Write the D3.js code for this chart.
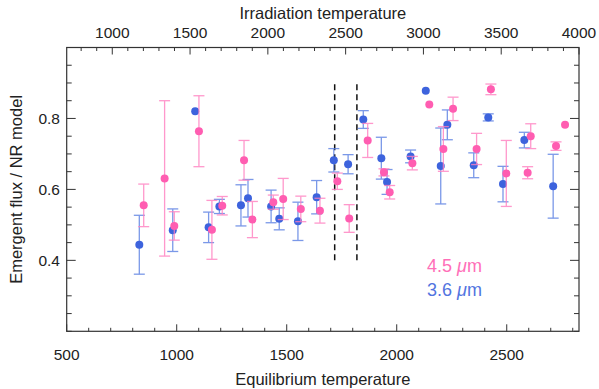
<!DOCTYPE html>
<html>
<head>
<meta charset="utf-8">
<script src="https://cdn.jsdelivr.net/npm/d3@7"></script>
<style>
  body { margin: 0; background: #fff; }
  text { font-family: "Liberation Sans", Arial, sans-serif; fill: #222; }
</style>
</head>
<body>
<svg id="chart" width="599" height="389"></svg>
<script>
// 3.6 micron points: equilibrium temperature, flux ratio, error (0 = no bar)
const blueTeq  = [830, 982, 1084, 1145, 1194, 1292, 1324, 1429, 1466, 1551, 1636, 1714, 1779,
                  1848, 1930, 1956, 2063, 2132, 2200, 2230, 2350, 2416, 2483, 2580, 2711];
const blueFlux = [0.444, 0.485, 0.820, 0.493, 0.552, 0.555, 0.575, 0.552, 0.517, 0.510, 0.578, 0.682, 0.671,
                  0.797, 0.688, 0.621, 0.693, 0.878, 0.666, 0.782, 0.668, 0.803, 0.615, 0.739, 0.609];
const blueErr  = [0.083, 0.060, 0, 0.043, 0.020, 0.058, 0.053, 0.046, 0.031, 0.054, 0.047, 0.033, 0.027,
                  0.025, 0.059, 0.035, 0.018, 0, 0.107, 0.042, 0.035, 0.010, 0.050, 0.022, 0.090];

// 4.5 micron points
const pinkTeq  = [850, 945, 989, 1101, 1160, 1207, 1306, 1344, 1439, 1484, 1564, 1651, 1730, 1784,
                  1868, 1942, 1968, 2071, 2148, 2212, 2256, 2363, 2428, 2498, 2595, 2609, 2724, 2765];
const pinkFlux = [0.555, 0.631, 0.497, 0.764, 0.486, 0.554, 0.682, 0.515, 0.564, 0.573, 0.545, 0.540, 0.623, 0.518,
                  0.738, 0.648, 0.592, 0.674, 0.839, 0.714, 0.827, 0.714, 0.882, 0.645, 0.647, 0.750, 0.722, 0.782];
const pinkErr  = [0.060, 0.219, 0.040, 0.100, 0.083, 0.026, 0.056, 0.051, 0.020, 0.058, 0.036, 0.035, 0.023, 0.039,
                  0.048, 0.010, 0.019, 0.019, 0, 0.063, 0.033, 0.044, 0.015, 0.093, 0.017, 0.035, 0.012, 0];

const dashedTeq = [1718, 1819];
const dashedSpan = [0.4, 0.9];

const bottomTicks = [500, 1000, 1500, 2000, 2500];
const topTicks = [1000, 1500, 2000, 2500, 3000, 3500, 4000];
const yTicks = [0.4, 0.6, 0.8];

const W = 599, H = 389;
const margin = {left: 66.7, right: 20, top: 47.5, bottom: 57.7};

let svg = d3.select("#chart");

let x = d3.scaleLinear().domain([500, 4000 / Math.SQRT2]).range([margin.left, W - margin.right]);
// irradiation temperature = sqrt(2) * equilibrium temperature
let xTop = d3.scaleLinear().domain(x.domain().map(d => d * Math.SQRT2)).range(x.range());
let y = d3.scaleLinear().domain([0.2, 1.0]).range([H - margin.bottom, margin.top]);

const x0 = x.range()[0], x1 = x.range()[1], y0 = y.range()[0], y1 = y.range()[1];
const axisColor = "#333";

// minor/major ticks, all pointing inward
function ticksAt(values, major, fn) {
    values.forEach(v => fn(v, major.some(m => Math.abs(m - v) < 1e-6)));
}
let tg = svg.append("g").attr("stroke", axisColor).attr("stroke-width", 1);

ticksAt(d3.range(500, 2801, 100), bottomTicks, (v, big) => {
    tg.append("line").attr("x1", x(v)).attr("x2", x(v))
        .attr("y1", y0).attr("y2", y0 - (big ? 7 : 3.5));
});
ticksAt(d3.range(800, 4001, 100), topTicks, (v, big) => {
    tg.append("line").attr("x1", xTop(v)).attr("x2", xTop(v))
        .attr("y1", y1).attr("y2", y1 + (big ? 7 : 3.5));
});
ticksAt(d3.range(0.2, 1.001, 0.05).map(v => +v.toFixed(2)), yTicks, (v, big) => {
    tg.append("line").attr("x1", x0).attr("x2", x0 + (big ? 9 : 5))
        .attr("y1", y(v)).attr("y2", y(v));
    tg.append("line").attr("x1", x1).attr("x2", x1 - (big ? 9 : 5))
        .attr("y1", y(v)).attr("y2", y(v));
});

svg.append("rect")
    .attr("x", x0).attr("y", y1)
    .attr("width", x1 - x0).attr("height", y0 - y1)
    .attr("fill", "none").attr("stroke", axisColor).attr("stroke-width", 1.2);

// tick labels
svg.append("g").selectAll("text").data(bottomTicks).join("text")
    .attr("x", d => x(d)).attr("y", 360)
    .attr("text-anchor", "middle").attr("font-size", 15.5)
    .text(d => d);
svg.append("g").selectAll("text").data(topTicks).join("text")
    .attr("x", d => xTop(d)).attr("y", 38)
    .attr("text-anchor", "middle").attr("font-size", 15.5)
    .text(d => d);
svg.append("g").selectAll("text").data(yTicks).join("text")
    .attr("x", 60).attr("y", d => y(d) + 5.5)
    .attr("text-anchor", "end").attr("font-size", 15.5)
    .text(d => d.toFixed(1));

// axis titles
svg.append("text").attr("x", (x0 + x1) / 2).attr("y", 385)
    .attr("text-anchor", "middle").attr("font-size", 16.5)
    .text("Equilibrium temperature");
svg.append("text").attr("x", (x0 + x1) / 2).attr("y", 19)
    .attr("text-anchor", "middle").attr("font-size", 16.5)
    .text("Irradiation temperature");
svg.append("text")
    .attr("transform", `translate(22,${(y0 + y1) / 2}) rotate(-90)`)
    .attr("text-anchor", "middle").attr("font-size", 16.5)
    .text("Emergent flux / NR model");

// dashed boundaries
svg.append("g").selectAll("line").data(dashedTeq).join("line")
    .attr("x1", d => x(d)).attr("x2", d => x(d))
    .attr("y1", y(dashedSpan[0])).attr("y2", y(dashedSpan[1]))
    .attr("stroke", "#111").attr("stroke-width", 1.5)
    .attr("stroke-dasharray", "6,4");

function drawSeries(teq, flux, err, color, barColor) {
    let pts = teq.map((t, i) => ({t, f: flux[i], e: err[i]}));
    let g = svg.append("g");
    let bars = pts.filter(d => d.e > 0);
    let eb = g.append("g").attr("stroke", barColor).attr("stroke-width", 1.3).attr("opacity", 0.8);
    eb.selectAll("line.v").data(bars).join("line").attr("class", "v")
        .attr("x1", d => x(d.t)).attr("x2", d => x(d.t))
        .attr("y1", d => y(d.f - d.e)).attr("y2", d => y(d.f + d.e));
    eb.selectAll("line.lo").data(bars).join("line").attr("class", "lo")
        .attr("x1", d => x(d.t) - 5.5).attr("x2", d => x(d.t) + 5.5)
        .attr("y1", d => y(d.f - d.e)).attr("y2", d => y(d.f - d.e));
    eb.selectAll("line.hi").data(bars).join("line").attr("class", "hi")
        .attr("x1", d => x(d.t) - 5.5).attr("x2", d => x(d.t) + 5.5)
        .attr("y1", d => y(d.f + d.e)).attr("y2", d => y(d.f + d.e));
    g.selectAll("circle").data(pts).join("circle")
        .attr("cx", d => x(d.t)).attr("cy", d => y(d.f))
        .attr("r", 4).attr("fill", color);
}

drawSeries(blueTeq, blueFlux, blueErr, "#3d63dd", "#5a7fe3");
drawSeries(pinkTeq, pinkFlux, pinkErr, "#ff5db1", "#ff7fc0");

// legend
svg.append("text").attr("x", 427).attr("y", 272).attr("font-size", 18)
    .style("fill", "#ff6eb8")
    .html('4.5 <tspan font-style="italic">μ</tspan>m');
svg.append("text").attr("x", 427).attr("y", 296).attr("font-size", 18)
    .style("fill", "#5274e0")
    .html('3.6 <tspan font-style="italic">μ</tspan>m');
</script>
</body>
</html>
